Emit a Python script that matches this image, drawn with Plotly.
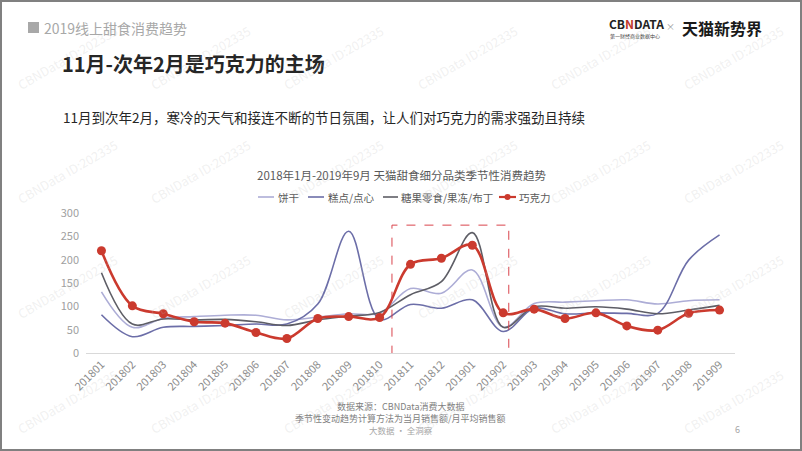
import plotly.graph_objects as go

months = ["201801", "201802", "201803", "201804", "201805", "201806", "201807",
          "201808", "201809", "201810", "201811", "201812", "201901", "201902",
          "201903", "201904", "201905", "201906", "201907", "201908", "201909"]

biscuit = [131, 55, 74, 78, 81, 81, 71, 77, 84, 85, 138, 128, 178, 55,
           106, 109, 112, 114, 105, 112, 114]
pastry = [82, 35, 55, 57, 59, 62, 62, 105, 261, 72, 104, 96, 114, 46,
          96, 84, 86, 85, 85, 199, 253]
candy = [172, 62, 73, 71, 72, 67, 59, 71, 79, 87, 125, 153, 258, 55,
         99, 96, 99, 94, 84, 92, 102]
chocolate = [219, 101, 84, 67, 64, 44, 31, 74, 78, 76, 190, 203, 231, 86,
             94, 74, 86, 58, 49, 85, 92]

names = ["饼干", "糕点/点心", "糖果零食/果冻/布丁", "巧克力"]
colors = ["#ADADD6", "#6C6EA8", "#5E5E66", "#CB3A2E"]
y_ticks = [0, 50, 100, 150, 200, 250, 300]

FONT = "Noto Sans CJK SC"
W, H = 802, 451
L, R, T, B = 86, 67, 213, 98
PW, PH = W - L - R, H - T - B


def px(x):
    return (x - L) / PW


def py(y):
    return (H - B - y) / PH


fig = go.Figure()
series = [biscuit, pastry, candy]
for s, n, c in zip(series, names[:3], colors[:3]):
    fig.add_trace(go.Scatter(x=months, y=s, name=n, mode="lines",
                             line=dict(color=c, width=1.6, shape="spline", smoothing=1.0),
                             showlegend=False))
fig.add_trace(go.Scatter(x=months, y=chocolate, name=names[3], mode="lines+markers",
                         line=dict(color=colors[3], width=2.6, shape="spline", smoothing=1.0),
                         marker=dict(color=colors[3], size=9),
                         showlegend=False))

shapes = []
annotations = []

# page frame
shapes.append(dict(type="rect", xref="paper", yref="paper",
                   x0=px(1), x1=px(801), y0=py(1), y1=py(450),
                   line=dict(color="#808080", width=2), layer="above"))

# header square
shapes.append(dict(type="rect", xref="paper", yref="paper",
                   x0=px(28), x1=px(39), y0=py(22), y1=py(33),
                   fillcolor="#A8A8A8", line=dict(width=0)))
annotations.append(dict(xref="paper", yref="paper", x=px(42), y=py(28),
                        xanchor="left", yanchor="middle", showarrow=False,
                        text="2019线上甜食消费趋势",
                        font=dict(family=FONT, size=14, color="#A8A8A8")))

annotations.append(dict(xref="paper", yref="paper", x=px(60), y=py(64),
                        xanchor="left", yanchor="middle", showarrow=False,
                        text="<b>11月-次年2月是巧克力的主场</b>",
                        font=dict(family=FONT, size=20, color="#262626")))
annotations.append(dict(xref="paper", yref="paper", x=px(61), y=py(117),
                        xanchor="left", yanchor="middle", showarrow=False,
                        text="11月到次年2月，寒冷的天气和接连不断的节日氛围，让人们对巧克力的需求强劲且持续",
                        font=dict(family=FONT, size=13.5, color="#262626")))

# logo
annotations.append(dict(xref="paper", yref="paper", x=px(607), y=py(23),
                        xanchor="left", yanchor="middle", showarrow=False,
                        text="<b>CB<span style='color:#C0392B'>N</span>DATA</b>",
                        font=dict(family=FONT, size=12, color="#222222")))
annotations.append(dict(xref="paper", yref="paper", x=px(608), y=py(35.5),
                        xanchor="left", yanchor="middle", showarrow=False,
                        text="第一财经商业数据中心",
                        font=dict(family=FONT, size=5, color="#444444")))
annotations.append(dict(xref="paper", yref="paper", x=px(670), y=py(27),
                        xanchor="center", yanchor="middle", showarrow=False,
                        text="×", font=dict(family=FONT, size=9, color="#999999")))
annotations.append(dict(xref="paper", yref="paper", x=px(680), y=py(28),
                        xanchor="left", yanchor="middle", showarrow=False,
                        text="<b>天猫新势界</b>",
                        font=dict(family=FONT, size=16, color="#1A1A1A")))

# chart title
annotations.append(dict(xref="paper", yref="paper", x=px(401), y=py(175),
                        xanchor="center", yanchor="middle", showarrow=False,
                        text="2018年1月-2019年9月 天猫甜食细分品类季节性消费趋势",
                        font=dict(family=FONT, size=11.5, color="#595959")))

# legend (manual)
leg_items = [(258, 274, 276), (308, 324, 326), (383, 398, 399), (499, 516, 517)]
for (lx0, lx1, tx), n, c in zip(leg_items, names, colors):
    shapes.append(dict(type="line", xref="paper", yref="paper",
                       x0=px(lx0), x1=px(lx1), y0=py(197), y1=py(197),
                       line=dict(color=c, width=2.2 if n == "巧克力" else 1.6)))
    annotations.append(dict(xref="paper", yref="paper", x=px(tx), y=py(197),
                            xanchor="left", yanchor="middle", showarrow=False,
                            text=n, font=dict(family=FONT, size=10.5, color="#595959")))
shapes.append(dict(type="circle", xref="paper", yref="paper",
                   x0=px(504.5), x1=px(510.5), y0=py(194), y1=py(200),
                   fillcolor=colors[3], line=dict(width=0)))

# dashed highlight box
shapes.append(dict(type="rect", xref="x", yref="y", x0=9.4, x1=13.18, y0=-8.5, y1=274,
                   line=dict(color="#D9434B", width=1, dash="dash")))

# footer
annotations.append(dict(xref="paper", yref="paper", x=px(401), y=py(406),
                        xanchor="center", yanchor="middle", showarrow=False,
                        text="数据来源：CBNData消费大数据",
                        font=dict(family=FONT, size=9, color="#7F7F7F")))
annotations.append(dict(xref="paper", yref="paper", x=px(400), y=py(418),
                        xanchor="center", yanchor="middle", showarrow=False,
                        text="季节性变动趋势计算方法为当月销售额/月平均销售额",
                        font=dict(family=FONT, size=9, color="#7F7F7F")))
annotations.append(dict(xref="paper", yref="paper", x=px(401), y=py(430),
                        xanchor="center", yanchor="middle", showarrow=False,
                        text="大数据 · 全洞察",
                        font=dict(family=FONT, size=8.5, color="#A6A6A6")))
annotations.append(dict(xref="paper", yref="paper", x=px(737), y=py(429),
                        xanchor="center", yanchor="middle", showarrow=False,
                        text="6", font=dict(family=FONT, size=9, color="#A6A6A6")))

# watermarks
for by in [86, 200, 315, 430]:
    for bx in [17, 150, 283, 417, 550, 683]:
        annotations.append(dict(xref="paper", yref="paper", x=px(bx + 50), y=py(by - 29),
                                xanchor="center", yanchor="middle", showarrow=False,
                                textangle=-30, text="CBNData ID:202335",
                                font=dict(family=FONT, size=12.5, color="rgba(190,190,190,0.22)")))

fig.update_layout(
    width=W, height=H,
    margin=dict(l=L, r=R, t=T, b=B),
    paper_bgcolor="white", plot_bgcolor="white",
    showlegend=False,
    shapes=shapes, annotations=annotations,
    xaxis=dict(type="category", tickangle=-45, showgrid=False, zeroline=False,
               showline=False, ticks="",
               tickfont=dict(family=FONT, size=11, color="#8C8C8C"),
               range=[-0.5, len(months) - 0.5]),
    yaxis=dict(range=[0, 300], tickvals=y_ticks, showgrid=False,
               zeroline=True, zerolinecolor="#D9D9D9", zerolinewidth=1,
               showline=False, ticks="",
               tickfont=dict(family=FONT, size=11, color="#A0A0A0")),
)
fig.update_xaxes(ticklabelstandoff=2)
fig.update_yaxes(ticklabelstandoff=6)

fig.write_html("out.html", config={"displayModeBar": False},
               post_script="document.body.style.margin='0';document.body.style.overflow='hidden';")
